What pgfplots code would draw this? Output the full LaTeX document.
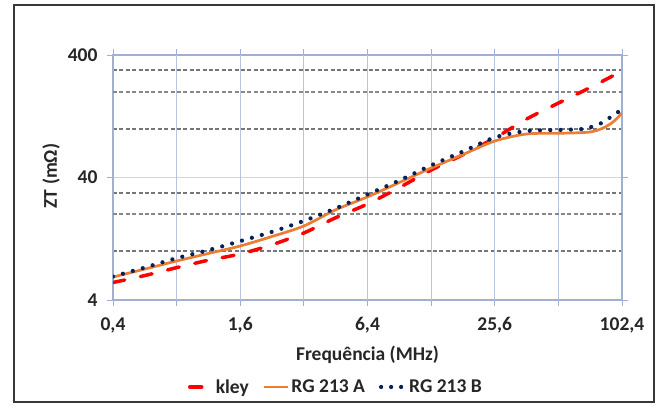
\documentclass[border=0pt]{standalone}
\usepackage{pgfplots}
\pgfplotsset{compat=1.18}
\usepackage{fontspec}
\setmainfont{Carlito}
\definecolor{kleyred}{RGB}{255,0,0}
\definecolor{rgA}{RGB}{237,125,49}
\definecolor{rgB}{RGB}{0,32,96}
\definecolor{vgrid}{RGB}{184,196,222}
\definecolor{axisc}{RGB}{160,176,210}
\definecolor{hgrid}{RGB}{212,212,212}
\definecolor{dgrid}{RGB}{118,118,118}
\definecolor{dgridl}{RGB}{135,135,135}
\definecolor{framec}{RGB}{55,55,60}
\newcommand{\cf}{\fontsize{19.5bp}{22bp}\selectfont\bfseries}
\begin{document}
\begin{tikzpicture}[x=1bp,y=1bp]
\useasboundingbox (0,0) rectangle (657,405);
\draw[framec, line width=2.6bp] (14,3) rectangle (654,400);
\begin{axis}[
  at={(113bp,105bp)}, anchor=south west,
  scale only axis, width=509bp, height=245bp,
  xmode=log, ymode=log, log basis x=2, log basis y=10,
  xmin=0.4, xmax=102.4, ymin=4, ymax=400,
  no markers,
  axis line style={axisc, line width=1.2bp},
  tick align=outside, major tick length=6bp, minor tick length=0bp,
  tick style={axisc, line width=0.9bp},
  xtick={0.4,1.6,6.4,25.6,102.4},
  xticklabels={{0,4},{1,6},{6,4},{25,6},{102,4}},
  minor xtick={},
  extra x ticks={0.8,1.6,3.2,6.4,12.8,25.6,51.2},
  extra x tick labels={},
  extra x tick style={grid=major, major grid style={vgrid, line width=1bp}},
  ytick={4,40,400}, yticklabels={4,40,400},
  minor ytick={10,30,100,300},
  extra y ticks={20,200}, extra y tick labels={},
  extra y tick style={grid=major, major tick length=0bp, major grid style={dgridl, line width=1.8bp, dash pattern=on 4bp off 2.4bp}},
  ymajorgrids, yminorgrids,
  major grid style={hgrid, line width=1.5bp},
  minor grid style={dgrid, line width=2.2bp, dash pattern=on 4bp off 2.4bp},
  ticklabel style={font=\cf, text=black!85},
  xticklabel style={yshift=-8bp},
  yticklabel style={xshift=-6bp},
  xlabel={Frequência (MHz)},
  xlabel style={at={(axis description cs:0.5,-0.2245)}, anchor=center, font=\cf, text=black!85},
  ylabel={ZT (mΩ)},
  ylabel style={at={(axis description cs:-0.1218,0.506)}, anchor=center, font=\cf, text=black!85},
  legend columns=-1,
  legend style={at={(axis description cs:0.436,-0.355)}, anchor=center, draw=none, fill=none,
    font=\cf, text=black!85, inner sep=0pt, nodes={inner sep=0pt},
    /tikz/every even column/.append style={column sep=14bp}},
]
\addplot[kleyred, line width=3.5bp, dash pattern=on 12bp off 16bp, line cap=round, smooth,
  legend image code/.code={\draw[kleyred, line width=3.5bp, line cap=round] (1.75bp,0bp)--(14.25bp,0bp); \path (26bp,0bp);}]
coordinates {(0.4,5.56) (0.567,6.34) (0.8,7.35) (1.13,8.45) (1.6,9.5) (2.26,11.3) (3.2,14.1) (4.5,18.7) (6.4,24.3) (9.05,33.1) (12.8,46) (18.1,61.4) (25.6,84) (36.2,120) (51.2,162) (72.4,217) (102.4,296)};
\addlegendentry{kley}
\addplot[rgA, line width=2.7bp, smooth,
  legend image code/.code={\draw[rgA, line width=2.7bp] (0bp,0bp)--(24bp,0bp); \path (26bp,0bp);}]
coordinates {(0.4,6.16) (0.567,7.16) (0.8,8.33) (1.13,9.59) (1.6,11.04) (2.26,13.2) (3.2,16.08) (4.5,21.7) (6.4,27.8) (9.05,36.4) (12.8,47.8) (18.1,61.6) (25.6,79.4) (36.2,90.6) (51.2,91.8) (72.4,94.1) (85.3,103.4) (94,115.7) (102.4,134.5)};
\addlegendentry{RG 213 A}
\addplot[rgB, line width=4.2bp, dash pattern=on 0bp off 10.3bp, line cap=round, smooth,
  legend image code/.code={\draw[rgB, line width=4.2bp, dash pattern=on 0bp off 10bp, line cap=round] (2bp,0bp)--(26bp,0bp); \path (28bp,0bp);}]
coordinates {(0.4,6.22) (0.567,7.37) (0.8,8.78) (1.13,10.2) (1.6,12.1) (2.26,14.4) (3.2,17.7) (4.5,22.3) (6.4,29.1) (9.05,37.8) (12.8,50.3) (18.1,65.2) (25.6,84.9) (36.2,95.8) (51.2,97.7) (66.4,99.5) (74,103.9) (82.5,112.1) (91,125.4) (102.4,144.1)};
\addlegendentry{RG 213 B}
\end{axis}
\end{tikzpicture}
\end{document}
